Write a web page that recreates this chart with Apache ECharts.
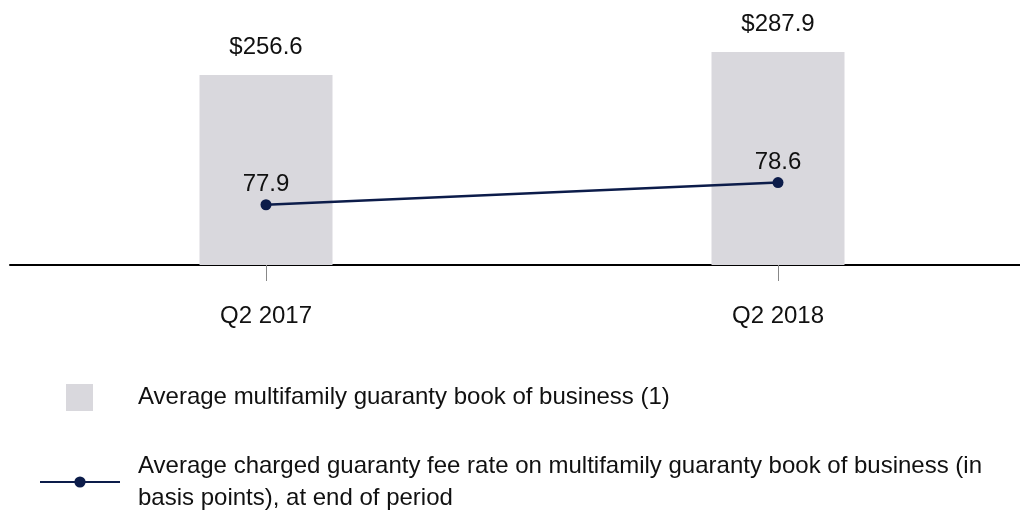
<!DOCTYPE html>
<html>
<head>
<meta charset="utf-8">
<script src="https://cdn.jsdelivr.net/npm/echarts@6/dist/echarts.min.js"></script>
<style>
  html, body { margin: 0; padding: 0; background: #fff; }
  #chart { width: 1020px; height: 513px; }
</style>
</head>
<body>
<div id="chart"></div>
<script>
  // values
  const categories = ['Q2 2017', 'Q2 2018']
  const bookValues = [256.6, 287.9]
  const feeRates = [77.9, 78.6]
  const bookName = 'Average multifamily guaranty book of business (1)'
  const feeName = 'Average charged guaranty fee rate on multifamily guaranty book of business (in basis points), at end of period'

  const font = '"Liberation Sans", Arial, sans-serif'
  const ink = '#111111'
  const barColor = '#d9d8dd'
  const lineColor = '#0c1c4a'

  const chart = echarts.init(document.getElementById('chart'))
  chart.setOption({
    animation: false,
    textStyle: { fontFamily: font, color: ink },
    grid: { left: 10, width: 1024, top: 43, bottom: 248, containLabel: false, outerBoundsMode: 'none' },
    legend: [
      {
        data: [bookName],
        left: 66,
        top: 384,
        padding: 0,
        selectedMode: false,
        itemWidth: 27,
        itemHeight: 27,
        icon: 'rect',
        textStyle: { fontFamily: font, fontSize: 24, color: ink, padding: [0, 0, 0, 40] }
      },
      {
        data: [feeName],
        left: 39,
        top: 450,
        padding: 0,
        selectedMode: false,
        itemWidth: 80,
        itemHeight: 14,
        textStyle: {
          fontFamily: font, fontSize: 24, color: ink, lineHeight: 32,
          width: 880, overflow: 'break', padding: [0, 0, 0, 13]
        }
      }
    ],
    xAxis: {
      type: 'category',
      data: categories,
      boundaryGap: true,
      axisLine: { show: true, lineStyle: { color: '#000', width: 2 } },
      axisTick: { show: true, inside: false, alignWithLabel: true, length: 16, lineStyle: { color: '#888', width: 1 } },
      axisLabel: { margin: 39, fontSize: 24, color: ink, fontFamily: font }
    },
    yAxis: [
      { type: 'value', min: 0, max: 300, show: false, splitLine: { show: false } },
      { type: 'value', min: 76, max: 83, show: false, splitLine: { show: false } }
    ],
    series: [
      {
        name: bookName,
        type: 'bar',
        data: bookValues,
        barWidth: 133,
        itemStyle: { color: barColor },
        label: {
          show: true,
          position: 'top',
          distance: 16,
          fontSize: 24,
          color: ink,
          fontFamily: font,
          formatter: p => '$' + p.value.toFixed(1)
        }
      },
      {
        name: feeName,
        type: 'line',
        yAxisIndex: 1,
        data: feeRates,
        symbol: 'circle',
        symbolSize: 11,
        itemStyle: { color: lineColor },
        lineStyle: { color: lineColor, width: 2.5 },
        label: {
          show: true,
          position: 'top',
          distance: 3,
          fontSize: 24,
          color: ink,
          fontFamily: font,
          formatter: p => p.value.toFixed(1)
        },
        z: 3
      }
    ]
  })
</script>
</body>
</html>
